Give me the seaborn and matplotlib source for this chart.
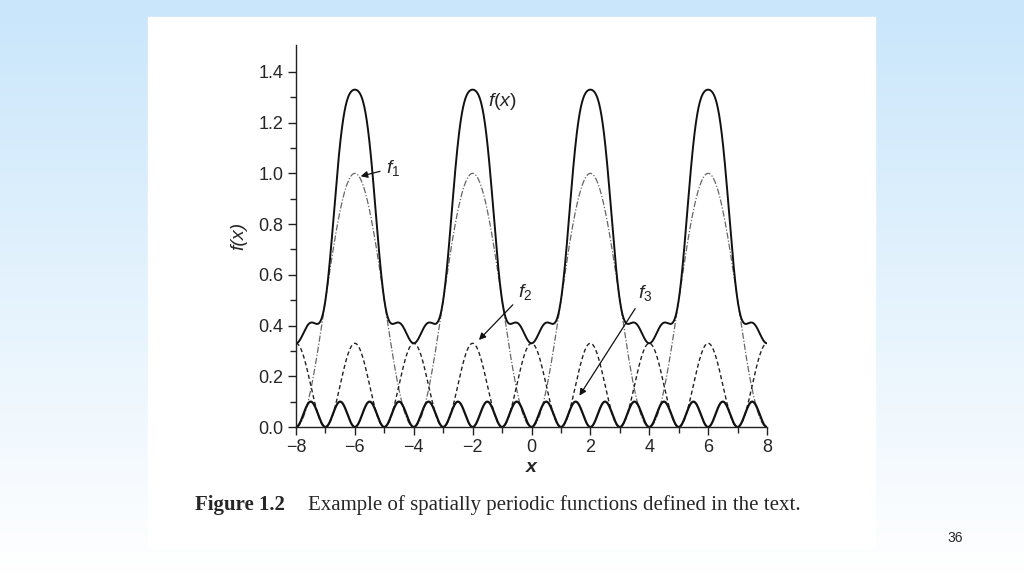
import numpy as np
import matplotlib
matplotlib.use("Agg")
import matplotlib.pyplot as plt
import seaborn as sns
from matplotlib.colors import LinearSegmentedColormap

# read-off parameters of the three component curves (amplitude, period, peak position)
f1_amp, f1_period, f1_peak = 1.0, 4.0, -6.0
f2_amp, f2_period, f2_peak = 0.33, 2.0, 0.0
f3_amp, f3_period, f3_peak = 0.1, 1.0, 0.5
x_ticks = [-8, -6, -4, -2, 0, 2, 4, 6, 8]
y_ticks = [0.0, 0.2, 0.4, 0.6, 0.8, 1.0, 1.2, 1.4]

x = np.linspace(-8, 8, 2001)
f1 = f1_amp * np.cos(np.pi * (x - f1_peak) / f1_period) ** 2
f2 = f2_amp * np.cos(np.pi * (x - f2_peak) / f2_period) ** 2
f3 = f3_amp * np.cos(np.pi * (x - f3_peak) / f3_period) ** 2
f = f1 + f2 + f3

sns.set_style("white")
plt.rcParams["font.family"] = ["Liberation Sans", "DejaVu Sans"]
plt.rcParams["mathtext.fontset"] = "custom"
plt.rcParams["mathtext.it"] = "Liberation Sans:italic"
plt.rcParams["mathtext.rm"] = "Liberation Sans"

fig = plt.figure(figsize=(10.24, 5.75), dpi=100)
bg = fig.add_axes([0, 0, 1, 1])
grad = np.linspace(0, 1, 256).reshape(-1, 1)
cm = LinearSegmentedColormap.from_list("g", ["#c9e6fb", "#ffffff"])
bg.imshow(grad, aspect="auto", cmap=cm, extent=[0, 1, 0, 1], origin="upper")
bg.add_patch(plt.Rectangle((148/1024, 1-548/575), (875-148)/1024, (548-17)/575, color="white", transform=bg.transAxes))
bg.set_axis_off()
bg.set_xlim(0, 1); bg.set_ylim(0, 1)

ax = fig.add_axes([296/1024, 148/575, 471/1024, 382/575])
ax.set_facecolor("none")
sns.lineplot(x=x, y=f1, ax=ax, color="#666666", lw=0.9, linestyle=(0, (5, 1.5, 1, 1.5)))
sns.lineplot(x=x, y=f2, ax=ax, color="#222222", lw=1.0, linestyle=(0, (3, 2)))
sns.lineplot(x=x, y=f3, ax=ax, color="#111111", lw=1.6)
sns.lineplot(x=x, y=f, ax=ax, color="#111111", lw=1.4)
ax.set_xlim(-8, 8)
ax.set_ylim(0, 1.506)
ax.set_xticks(x_ticks)
ax.set_xticklabels([str(t).replace("-", "\u2212") for t in x_ticks])
ax.set_yticks(y_ticks)
ax.set_yticklabels([f"{t:.1f}" for t in y_ticks])
ax.set_xticks(np.arange(-7, 8, 2), minor=True)
ax.set_yticks(np.arange(0.1, 1.5, 0.2), minor=True)
for s in ["top", "right"]:
    ax.spines[s].set_visible(False)
for s in ["left", "bottom"]:
    ax.spines[s].set_color("#222222"); ax.spines[s].set_linewidth(1.0)
ax.tick_params(which="major", direction="out", length=6, width=1, color="#222222", labelsize=13, pad=3, bottom=True, left=True)
ax.tick_params(which="minor", direction="out", length=4, width=1, color="#222222", bottom=True, left=True)
ax.set_xlabel("x", fontsize=14, style="italic", fontweight="bold", labelpad=2)
ax.set_ylabel("f(x)", fontsize=14, style="italic", labelpad=8)

def d(px, py):
    return ((px - 296) / 29.44 - 8, (427 - py) / 253.6)

ax.text(*d(488, 102), "$f(x)$", fontsize=14, va="center")
ax.annotate("$f_1$", xy=d(358, 177), xytext=d(386, 168), fontsize=14, va="center",
            arrowprops=dict(arrowstyle="-|>", color="#111111", lw=0.9, mutation_scale=10))
ax.annotate("$f_2$", xy=d(477, 342), xytext=d(518, 292), fontsize=14, va="center",
            arrowprops=dict(arrowstyle="-|>", color="#111111", lw=0.9, mutation_scale=10))
ax.annotate("$f_3$", xy=d(578, 398), xytext=d(638, 293), fontsize=14, va="center",
            arrowprops=dict(arrowstyle="-|>", color="#111111", lw=0.9, mutation_scale=10))

fig.text(195/1024, 1-505/575, "Figure 1.2", fontsize=15, fontweight="bold", family="Liberation Serif", va="center")
fig.text(308/1024, 1-505/575, "Example of spatially periodic functions defined in the text.", fontsize=15, family="Liberation Serif", va="center")
fig.text(955/1024, 1-538/575, "36", fontsize=10, ha="center", va="center")

fig.savefig("out.png", dpi=100)
